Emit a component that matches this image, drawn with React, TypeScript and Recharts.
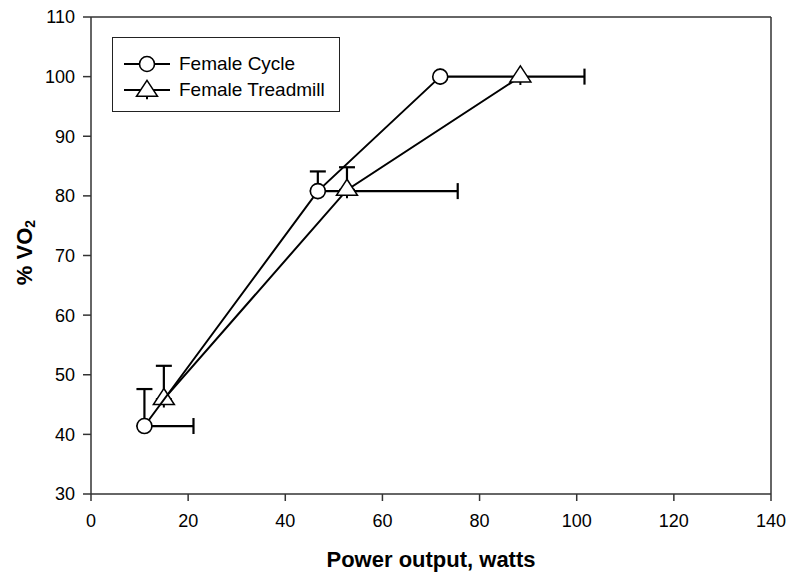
import React from "react";
import { ScatterChart, Scatter, XAxis, YAxis, ErrorBar, ReferenceLine } from "recharts";

// Female cycle ergometer
const cycleWatts = [11, 46.7, 71.9];
const cycleVO2 = [41.4, 80.8, 100];
const cycleWattsErr = [10.1, 28.8, 29.7];
const cycleVO2Err = [6.2, 3.3, 0];

// Female treadmill
const treadWatts = [15, 52.7, 88.4];
const treadVO2 = [45.9, 81.0, 100];
const treadVO2Err = [5.6, 3.8, 0];

const seriesNames = ["Female Cycle", "Female Treadmill"];
const xTicks = [0, 20, 40, 60, 80, 100, 120, 140];
const yTicks = [30, 40, 50, 60, 70, 80, 90, 100, 110];

const FONT = "'Liberation Sans', Arial, Helvetica, sans-serif";
const INK = "#000";
const AXIS = "#333";

const oneSided = (e: number) => (e > 0 ? [0, e] : undefined);

const cycleData = cycleWatts.map((x, i) => ({
  x,
  y: cycleVO2[i],
  ex: oneSided(cycleWattsErr[i]),
  ey: oneSided(cycleVO2Err[i]),
}));

const treadData = treadWatts.map((x, i) => ({
  x,
  y: treadVO2[i],
  ey: oneSided(treadVO2Err[i]),
}));

function CircleMark({ cx, cy }: { cx?: number; cy?: number }) {
  if (cx == null || cy == null) return null;
  return <circle cx={cx} cy={cy} r={7.5} fill="#fff" stroke={INK} strokeWidth={1.6} />;
}

// triangle drawn around its centroid, with the small stub under the base
function TriangleMark({ cx, cy }: { cx?: number; cy?: number }) {
  if (cx == null || cy == null) return null;
  const h = 16;
  const b = 21;
  const top = cy - (2 * h) / 3;
  const base = cy + h / 3;
  return (
    <g>
      <line x1={cx} y1={base} x2={cx} y2={base + 3} stroke={INK} strokeWidth={2} />
      <path
        d={`M${cx},${top} L${cx + b / 2},${base} L${cx - b / 2},${base} Z`}
        fill="#fff"
        stroke={INK}
        strokeWidth={1.5}
      />
    </g>
  );
}

function LegendBox() {
  const rows = [
    { name: seriesNames[0], mark: <CircleMark cx={23} cy={11} /> },
    { name: seriesNames[1], mark: <TriangleMark cx={23} cy={12} /> },
  ];
  return (
    <div
      style={{
        position: "absolute",
        left: 112,
        top: 37,
        width: 228,
        height: 75,
        boxSizing: "border-box",
        border: "1.5px solid #222",
        padding: "13px 0 0 11px",
        background: "#fff",
        fontFamily: FONT,
        fontSize: 19,
        color: INK,
      }}
    >
      {rows.map((r) => (
        <div key={r.name} style={{ display: "flex", alignItems: "center", height: 26 }}>
          <svg width={46} height={22} style={{ overflow: "visible" }}>
            <line x1={0} y1={11} x2={46} y2={11} stroke={INK} strokeWidth={2} />
            {r.mark}
          </svg>
          <span style={{ marginLeft: 9, lineHeight: "20px" }}>{r.name}</span>
        </div>
      ))}
    </div>
  );
}

function YTitle(props: any) {
  const vb = props.viewBox || {};
  const cx = 24;
  const cy = (vb.y ?? 0) + (vb.height ?? 0) / 2;
  return (
    <text
      transform={`translate(${cx},${cy - 3}) rotate(-90)`}
      textAnchor="middle"
      dominantBaseline="central"
      fontFamily={FONT}
      fontWeight="bold"
      fontSize={22}
      fill={INK}
    >
      <tspan>% VO</tspan>
      <tspan fontSize={14} dy={6}>2</tspan>
    </text>
  );
}

function XTitle(props: any) {
  const vb = props.viewBox || {};
  const cx = (vb.x ?? 0) + (vb.width ?? 0) / 2;
  return (
    <text
      x={cx}
      y={567}
      textAnchor="middle"
      fontFamily={FONT}
      fontWeight="bold"
      fontSize={22}
      fill={INK}
    >
      Power output, watts
    </text>
  );
}

export default function App() {
  const tickStyle = { fontFamily: FONT, fontSize: 18, fill: INK };
  return (
    <div style={{ position: "absolute", left: 0, top: 0, width: 790, height: 575, background: "#fff" }}>
      <ScatterChart width={790} height={575} margin={{ top: 17, right: 19, bottom: 0, left: 0 }}>
        <XAxis
          type="number"
          dataKey="x"
          domain={[0, 140]}
          ticks={xTicks}
          interval={0}
          allowDataOverflow
          height={81}
          tickSize={7}
          tickMargin={13}
          tick={tickStyle}
          axisLine={{ stroke: AXIS, strokeWidth: 1.5 }}
          tickLine={{ stroke: AXIS, strokeWidth: 1.5 }}
          label={{ content: (p: any) => <XTitle {...p} /> }}
        />
        <YAxis
          type="number"
          dataKey="y"
          domain={[30, 110]}
          ticks={yTicks}
          interval={0}
          allowDataOverflow
          width={91}
          tickSize={8}
          tickMargin={8}
          tick={tickStyle}
          axisLine={{ stroke: AXIS, strokeWidth: 1.5 }}
          tickLine={{ stroke: AXIS, strokeWidth: 1.5 }}
          label={{ content: (p: any) => <YTitle {...p} /> }}
        />
        <ReferenceLine y={110} stroke={AXIS} strokeWidth={1.5} />
        <ReferenceLine x={140} stroke={AXIS} strokeWidth={1.5} />
        <Scatter
          name={seriesNames[1]}
          data={treadData}
          line={{ stroke: INK, strokeWidth: 2 }}
          lineType="joint"
          shape={(p: any) => <TriangleMark cx={p.cx} cy={p.cy} />}
          isAnimationActive={false}
        >
          <ErrorBar dataKey="ey" direction="y" width={8} stroke={INK} strokeWidth={2.2} />
        </Scatter>
        <Scatter
          name={seriesNames[0]}
          data={cycleData}
          line={{ stroke: INK, strokeWidth: 2 }}
          lineType="joint"
          shape={(p: any) => <CircleMark cx={p.cx} cy={p.cy} />}
          isAnimationActive={false}
        >
          <ErrorBar dataKey="ey" direction="y" width={8} stroke={INK} strokeWidth={2.2} />
          <ErrorBar dataKey="ex" direction="x" width={8} stroke={INK} strokeWidth={2.2} />
        </Scatter>
      </ScatterChart>
      <LegendBox />
    </div>
  );
}
